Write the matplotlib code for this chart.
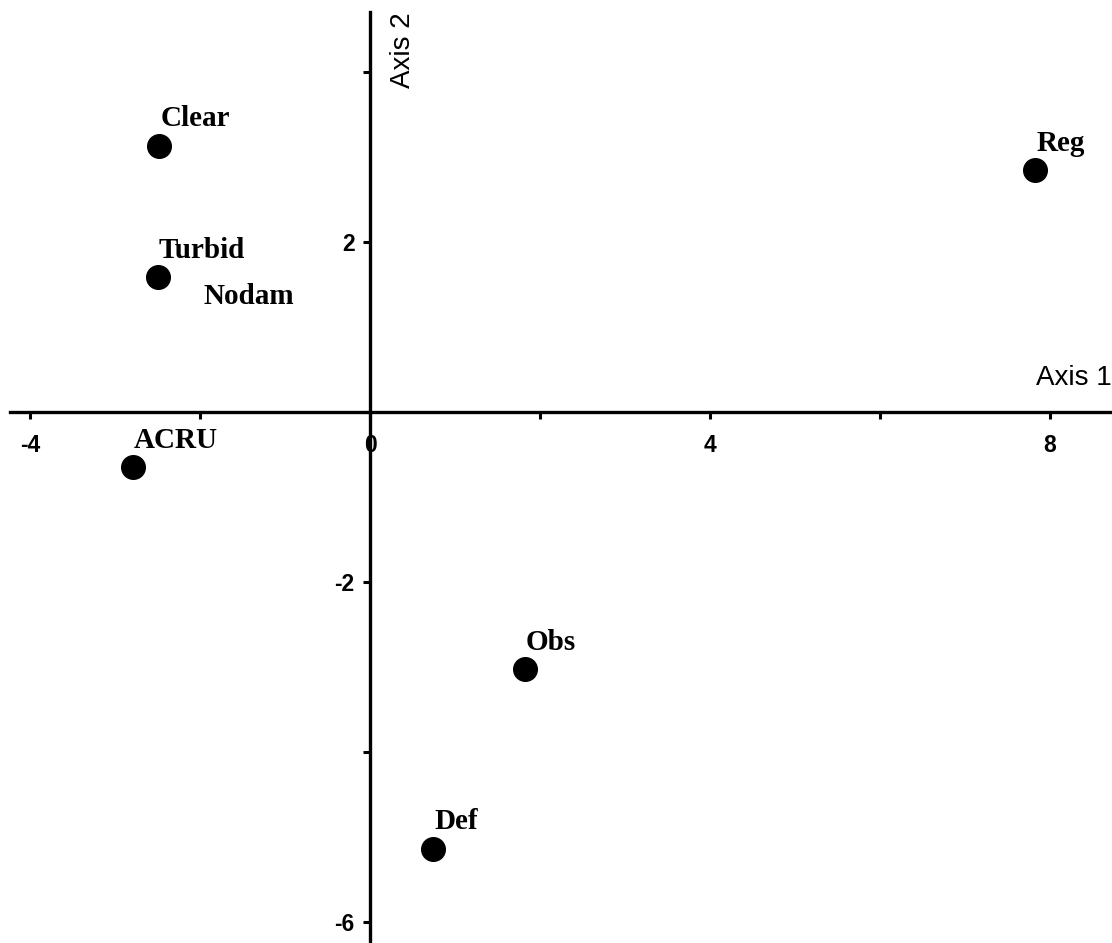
import numpy as np
import matplotlib.pyplot as plt
from matplotlib.ticker import FixedLocator

# ordination scores
names = ['Clear', 'Turbid', 'Nodam', 'Reg', 'ACRU', 'Obs', 'Def']
axis1 = [-2.48, -2.50, -1.98, 7.82, -2.79, 1.82, 0.74]
axis2 = [3.13, 1.58, 1.04, 2.84, -0.65, -3.03, -5.14]
shown = [True, True, False, True, True, True, True]   # Nodam has only a label

x_ticks = [-4, 0, 4, 8]
y_ticks = [-6, -2, 2]

fig = plt.figure(figsize=(11.12, 9.43), dpi=100)
ax = fig.add_axes([0, 0, 1, 1])

xs = np.array(axis1)
ys = np.array(axis2)
m = np.array(shown)
ax.scatter(xs[m], ys[m], s=17**2, color='black', zorder=3, clip_on=False)

for n, x, y in zip(names, axis1, axis2):
    ax.annotate(n, (x, y), xytext=(1, 14), textcoords='offset points',
                ha='left', va='baseline', fontsize=21, fontweight='bold',
                family='Liberation Serif')

ax.set_xlim(-4.353, 8.729)
ax.set_ylim(-6.251, 4.844)

for s in ['top', 'right']:
    ax.spines[s].set_visible(False)
ax.spines['left'].set_position(('data', 0))
ax.spines['bottom'].set_position(('data', 0))
ax.spines['left'].set_linewidth(2.4)
ax.spines['bottom'].set_linewidth(2.4)
ax.spines['bottom'].set_bounds(-4.235, 8.729)
ax.spines['left'].set_bounds(-6.251, 4.70)

ax.xaxis.set_major_locator(FixedLocator(x_ticks))
ax.xaxis.set_minor_locator(FixedLocator([-2, 2, 6]))
ax.yaxis.set_major_locator(FixedLocator(y_ticks))
ax.yaxis.set_minor_locator(FixedLocator([-4, 0, 4]))
ax.tick_params(axis='x', which='both', direction='out', length=5, width=2.2, pad=11)
ax.tick_params(axis='y', which='both', direction='out', length=5, width=2.2, pad=6)
ax.tick_params(which='minor', labelbottom=False, labelleft=False)
ax.set_xticklabels([str(t) for t in x_ticks], fontsize=16.5, fontweight='bold',
                   family='Liberation Sans')
ax.set_yticklabels([str(t) for t in y_ticks], fontsize=16.5, fontweight='bold',
                   family='Liberation Sans')

ax.text(8.729, 0.24, 'Axis 1', ha='right', va='bottom', fontsize=20,
        family='Liberation Sans')
ax.text(0.235, 4.70, 'Axis 2', ha='left', va='top', rotation=90, fontsize=20,
        family='Liberation Sans')

fig.savefig('out.png', dpi=100)
